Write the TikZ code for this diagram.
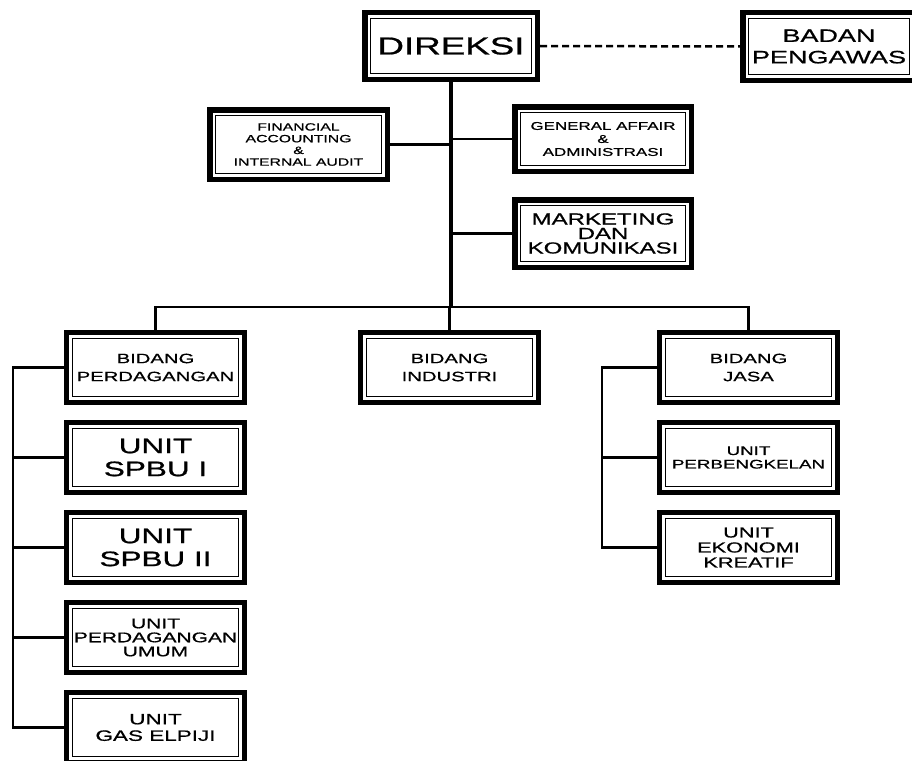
\documentclass[tikz,border=0pt]{standalone}
\usepackage{fontspec}
\setmainfont[FakeStretch=1.5, FakeBold=0.8]{Liberation Sans}

\tikzset{
  kotak/.style={draw, line width=1.2pt, rectangle, align=center, inner sep=0pt,
    outer sep=8.6pt, minimum width=166pt, minimum height=58pt},
  huruf/.style 2 args={font=\fontsize{#1pt}{#2pt}\selectfont},
  bingkai/.style={draw, line width=5.5pt},
  garis/.style={line width=2.5pt},
  batang/.style={line width=3.5pt},
  putus/.style={line width=2.5pt, dash pattern=on 7pt off 4pt}
}

\begin{document}
\begin{tikzpicture}[x=1pt, y=-1pt]

\useasboundingbox (0,0) rectangle (912,760);

% Pimpinan
\node[kotak, minimum width=160.8pt, minimum height=54.8pt, huruf={24.5}{26}] (direksi) at (451,46) {DIREKSI};
\node[kotak, minimum width=160.8pt, minimum height=55.8pt, huruf={18}{21.5}] (pengawas) at (829,46.5) {BADAN\\PENGAWAS};

% Staf
\node[kotak, minimum width=165.8pt, minimum height=57.8pt, huruf={10.5}{11.7}] (keuangan) at (298.5,144.5) {FINANCIAL\\ACCOUNTING\\\&\\INTERNAL AUDIT};
\node[kotak, minimum width=164.8pt, minimum height=52.8pt, huruf={11.3}{13}] (umum) at (603,139) {GENERAL AFFAIR\\\&\\ADMINISTRASI};
\node[kotak, minimum width=164.8pt, minimum height=55.8pt, huruf={16}{14.5}] (pemasaran) at (603,233.5) {MARKETING\\DAN\\KOMUNIKASI};

% Bidang
\node[kotak, huruf={13.5}{18}] (dagang) at (155.5,367.5) {BIDANG\\PERDAGANGAN};
\node[kotak, huruf={13.5}{18}] (industri) at (449.5,367.5) {BIDANG\\INDUSTRI};
\node[kotak, huruf={13.5}{18}] (jasa) at (748.5,367.5) {BIDANG\\JASA};

% Unit perdagangan
\node[kotak, huruf={21}{23}] (spbu1) at (155.5,457.5) {UNIT\\SPBU I};
\node[kotak, huruf={21}{23}] (spbu2) at (155.5,547.5) {UNIT\\SPBU II};
\node[kotak, huruf={14}{14}] (dagangumum) at (155.5,637.5) {UNIT\\PERDAGANGAN\\UMUM};
\node[kotak, huruf={15}{16.5}] (elpiji) at (155.5,727.5) {UNIT\\GAS ELPIJI};

% Unit jasa
\node[kotak, huruf={12.5}{13.5}] (bengkel) at (748.5,457.5) {UNIT\\PERBENGKELAN};
\node[kotak, huruf={14.5}{15}] (kreatif) at (748.5,547.5) {UNIT\\EKONOMI\\KREATIF};

% Bingkai tebal
\foreach \n in {direksi,pengawas,keuangan,umum,pemasaran,dagang,industri,jasa,
                spbu1,spbu2,dagangumum,elpiji,bengkel,kreatif}
  \draw[bingkai] ([shift={(2.75pt,-2.75pt)}]\n.north west) rectangle ([shift={(-2.75pt,2.75pt)}]\n.south east);

% Garis utama
\coordinate (cabang) at (451,307);
\draw[batang] (direksi.south) -- (cabang);
\draw[putus] (direksi.east) -- (pengawas.west);
\draw[garis] (keuangan.east) -- (keuangan.east -| direksi.south);
\draw[garis] (umum.west) -- (umum.west -| direksi.south);
\draw[garis] (pemasaran.west) -- (pemasaran.west -| direksi.south);

% Garis bidang
\draw[garis] (dagang.north) |- (cabang) -| (jasa.north);
\draw[garis] (industri.north) -- (industri.north |- cabang);

% Garis unit kiri
\coordinate (kiri) at (13,727.5);
\draw[garis] (dagang.west) -| (kiri) -- (elpiji.west);
\foreach \n in {spbu1,spbu2,dagangumum}
  \draw[garis] (\n.west) -- (\n.west -| kiri);

% Garis unit kanan
\coordinate (kanan) at (602,547.5);
\draw[garis] (jasa.west) -| (kanan) -- (kreatif.west);
\draw[garis] (bengkel.west) -- (bengkel.west -| kanan);

\end{tikzpicture}
\end{document}
